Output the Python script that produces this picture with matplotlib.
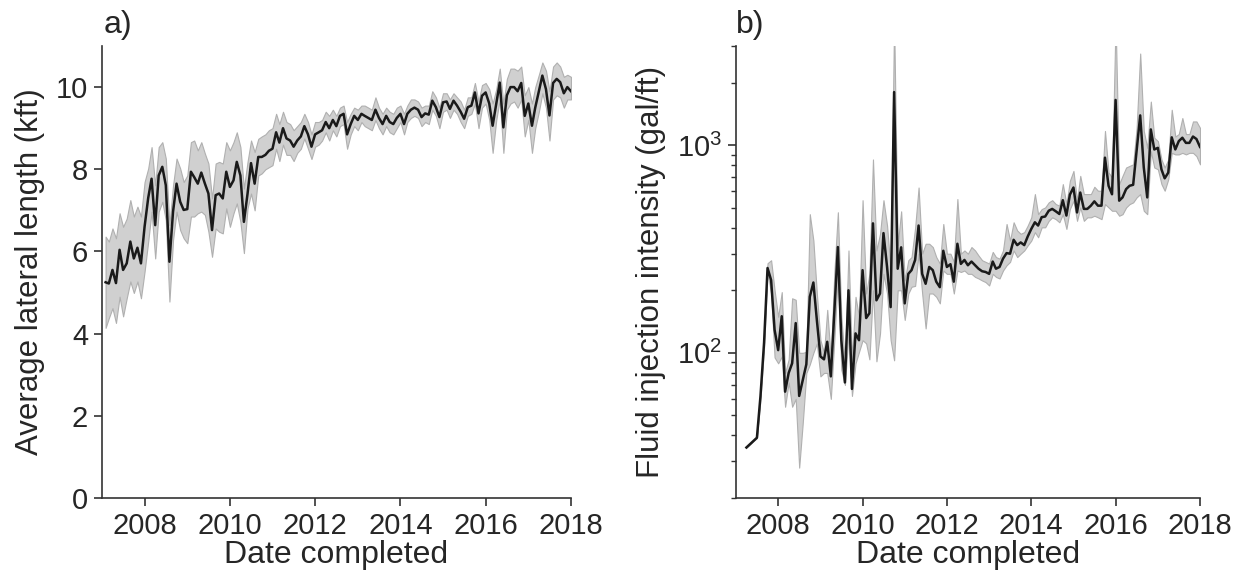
import numpy as np
import pandas as pd
import matplotlib
matplotlib.use("Agg")
import matplotlib.pyplot as plt
import matplotlib.dates as mdates
from matplotlib.ticker import LogLocator, NullFormatter

plt.rcParams['font.family'] = ['Liberation Sans', 'DejaVu Sans']
plt.rcParams['mathtext.fontset'] = 'custom'
plt.rcParams['mathtext.rm'] = 'Liberation Sans'
plt.rcParams['mathtext.it'] = 'Liberation Sans'

# ---------------- data ----------------
# panel a: monthly (Jan 2007 .. Dec 2017), average lateral length, kft
lat_months = pd.period_range('2007-01', '2017-12', freq='M')
lat_mean = [5.25, 5.22, 5.55, 5.23, 6.04, 5.55, 5.71, 6.24, 5.83, 6.09,
            5.71, 6.6, 7.3, 7.77, 6.64, 7.85, 8.06, 7.61, 5.75, 6.97,
            7.65, 7.21, 7.01, 7.03, 7.94, 7.81, 7.65, 7.92, 7.65, 7.41,
            6.52, 7.37, 7.41, 7.29, 7.94, 7.57, 7.73, 8.18, 7.85, 6.72,
            7.4, 8.15, 7.65, 8.3, 8.3, 8.35, 8.45, 8.5, 8.9, 8.65,
            9.0, 8.75, 8.7, 8.55, 8.7, 8.8, 9.05, 8.85, 8.55, 8.85,
            8.9, 8.95, 9.15, 9.0, 9.2, 9.05, 9.3, 9.35, 8.85, 9.1,
            9.3, 9.2, 9.35, 9.3, 9.25, 9.2, 9.45, 9.25, 9.1, 9.3,
            9.15, 9.1, 9.25, 9.35, 9.1, 9.35, 9.45, 9.5, 9.45, 9.27,
            9.36, 9.33, 9.67, 9.51, 9.27, 9.63, 9.65, 9.47, 9.67, 9.55,
            9.4, 9.23, 9.51, 9.55, 9.87, 9.36, 9.79, 9.87, 9.6, 9.06,
            9.6, 10.11, 9.02, 9.8, 10.0, 10.0, 9.9, 10.1, 9.3, 9.6,
            9.06, 9.5, 9.9, 10.28, 9.95, 9.31, 10.1, 10.2, 10.12, 9.85,
            10.0, 9.9]
lat_hi = [6.36, 6.24, 6.56, 6.32, 6.93, 6.6, 6.8, 7.25, 6.85, 7.09,
          6.85, 7.69, 8.02, 8.54, 7.61, 8.54, 8.66, 8.26, 6.64, 7.61,
          8.26, 8.02, 7.69, 7.85, 8.66, 8.7, 8.46, 8.66, 8.38, 8.14,
          7.29, 8.14, 8.18, 8.14, 8.66, 8.46, 8.66, 8.9, 8.54, 7.53,
          8.18, 8.7, 8.42, 8.74,
          8.8, 8.85, 8.95, 9.0, 9.35, 9.1, 9.4, 9.15, 9.1, 8.95,
          9.05, 9.15, 9.35, 9.15, 8.85, 9.15, 9.15, 9.2, 9.4, 9.3,
          9.45, 9.3, 9.5, 9.55, 9.15, 9.35, 9.5, 9.45, 9.55, 9.55,
          9.5, 9.45, 9.75, 9.5, 9.35, 9.5, 9.4, 9.35, 9.5, 9.55,
          9.35, 9.55, 9.7, 9.7, 9.65, 9.5, 9.55, 9.55, 9.9, 9.75,
          9.5, 9.85, 9.85, 9.7, 9.85, 9.75, 9.65, 9.45, 9.75, 9.75,
          10.1, 9.65, 10.05, 10.1, 9.95, 9.6, 9.95, 10.45, 9.6, 10.2,
          10.45, 10.45, 10.4, 10.5, 9.8, 10.0, 9.6, 10.0, 10.3, 10.6,
          10.4, 9.9, 10.5, 10.6, 10.5, 10.25, 10.3, 10.25]
lat_lo = [4.14, 4.38, 4.62, 4.26, 4.9, 4.42, 4.86, 5.27, 4.99, 5.27,
          4.86, 5.51, 6.24, 6.97, 5.83, 6.97, 7.21, 6.76, 4.78, 6.28,
          6.97, 6.52, 6.32, 6.2, 6.85, 6.85, 6.93, 6.97, 6.89, 6.48,
          5.87, 6.56, 6.48, 6.44, 7.05, 6.6, 6.93, 7.17, 6.72, 5.96,
          7.05, 7.41, 7.0, 7.85,
          7.9, 8.0, 8.05, 8.1, 8.5, 8.2, 8.6, 8.35, 8.35, 8.2,
          8.4, 8.5, 8.75, 8.5, 8.25, 8.55, 8.6, 8.7, 8.9, 8.7,
          8.95, 8.8, 9.05, 9.1, 8.5, 8.85, 9.05, 8.95, 9.15, 9.05,
          9.0, 8.95, 9.2, 9.0, 8.85, 9.05, 8.9, 8.85, 9.0, 9.15,
          8.85, 9.15, 9.25, 9.3, 9.25, 9.05, 9.15, 9.1, 9.45, 9.3,
          9.0, 9.4, 9.45, 9.25, 9.45, 9.35, 9.15, 9.0, 9.3, 9.35,
          9.6, 9.0, 9.5, 9.6, 9.2, 8.4, 9.2, 9.7, 8.4, 9.45,
          9.6, 9.65, 9.5, 9.7, 8.8, 9.2, 8.4, 9.0, 9.4, 9.85,
          9.5, 8.7, 9.7, 9.8, 9.75, 9.5, 9.7, 9.7]

# panel b: fluid injection intensity, gal/ft (Mar 2007, Jun 2007, then monthly Jul 2007 .. Dec 2017)
fluid_months = (['2007-03', '2007-06'] +
                [str(p) for p in pd.period_range('2007-07', '2017-12', freq='M')])
fluid_mean = [35, 39, 62, 112, 256, 224, 129, 103, 150, 65,
              80, 89, 139, 62, 74, 88, 186, 218, 144, 96,
              93, 113, 77, 155, 323, 115, 72, 200, 67, 124,
              115, 250, 147, 155, 420, 179, 193, 377, 259, 166,
              1800, 254, 322, 173, 240, 250, 280, 410, 240, 215,
              259, 250, 220, 207, 310, 259, 267, 220, 335, 268,
              280, 264, 275, 264, 254, 247, 245, 240, 275, 254,
              259, 284, 302, 300, 350, 330, 340, 330, 363, 395,
              425, 410, 450, 453, 483, 493, 480, 466, 543, 458,
              577, 625, 474, 591, 493, 493, 511, 536, 511, 511,
              870, 637, 580, 1650, 540, 560, 614, 637, 644, 935,
              1390, 780, 560, 1190, 953, 970, 764, 692, 737, 1090,
              953, 1045, 1085, 1025, 1025, 1100, 1070, 980]
fluid_lo = [35, 39, 60, 106, 245, 193, 95, 89, 96, 55,
            72, 55, 60, 28, 46, 80, 88, 100, 111, 77,
            80, 80, 60, 115, 240, 83, 70, 124, 62, 89,
            101, 115, 111, 93, 200, 91, 124, 240, 193, 115,
            92, 200, 200, 144, 193, 208, 210, 300, 193, 131,
            193, 193, 186, 173, 249, 240, 240, 193, 249, 245,
            249, 240, 240, 232, 228, 223, 219, 211, 240, 232,
            228, 249, 264, 274, 311, 289, 300, 311, 329, 347,
            381, 360, 402, 402, 432, 449, 440, 425, 465, 395,
            492, 540, 432, 501, 432, 449, 449, 457, 449, 440,
            520, 501, 483, 483, 457, 465, 501, 520, 530, 560,
            581, 483, 465, 935, 780, 765, 649, 603, 685, 918,
            902, 902, 918, 902, 918, 918, 885, 808]
fluid_hi = [35, 39, 64, 118, 270, 279, 200, 149, 196, 80,
            93, 183, 180, 100, 100, 101, 465, 347, 193, 115,
            100, 161, 93, 240, 475, 149, 89, 311, 93, 186,
            149, 543, 193, 240, 853, 311, 374, 543, 410, 249,
            4000, 330, 480, 223, 279, 289, 400, 625, 300, 335,
            335, 323, 289, 269, 417, 300, 300, 274, 550, 300,
            311, 300, 323, 311, 294, 279, 274, 269, 306, 289,
            284, 311, 417, 347, 425, 388, 374, 381, 410, 449,
            581, 465, 492, 501, 530, 543, 520, 511, 649, 520,
            673, 751, 540, 711, 581, 581, 581, 630, 603, 603,
            1170, 738, 698, 4000, 649, 711, 780, 794, 808, 1210,
            2760, 1170, 970, 1620, 1085, 1045, 853, 780, 853, 1480,
            1100, 1130, 1350, 1130, 1130, 1300, 1300, 1210]

lat_dates = lat_months.to_timestamp(how='end')
fluid_dates = pd.PeriodIndex(fluid_months, freq='M').to_timestamp(how='end')

# ---------------- figure ----------------
TXT = '#262626'
LINE = '#1a1a1a'
BAND_FACE = '#d0d0d0'
BAND_EDGE = '#b0b0b0'

fig = plt.figure(figsize=(12.42, 5.81), dpi=100)
axa = fig.add_axes([0.0821, 0.1429, 0.3776, 0.7779])
axb = fig.add_axes([0.5926, 0.1429, 0.3736, 0.7779])

for ax, d, m, lo, hi in [(axa, lat_dates, lat_mean, lat_lo, lat_hi),
                         (axb, fluid_dates, fluid_mean, fluid_lo, fluid_hi)]:
    ax.fill_between(d, lo, hi, facecolor=BAND_FACE, edgecolor=BAND_EDGE,
                    linewidth=0.8, zorder=1)
    ax.plot(d, m, color=LINE, linewidth=1.8, zorder=2)
    ax.set_xlim(pd.Timestamp('2007-01-01'), pd.Timestamp('2018-01-01'))
    ax.xaxis.set_major_locator(mdates.YearLocator(2, month=1, day=1))
    ax.xaxis.set_major_formatter(mdates.DateFormatter('%Y'))
    for s in ['top', 'right']:
        ax.spines[s].set_visible(False)
    for s in ['left', 'bottom']:
        ax.spines[s].set_color('#333333')
        ax.spines[s].set_linewidth(1.2)
    ax.tick_params(axis='both', which='major', direction='out', length=6,
                   width=1.2, color='#333333', labelsize=21, labelcolor=TXT,
                   pad=4)
    ax.tick_params(axis='both', which='minor', direction='out', length=3.5,
                   width=1.0, color='#333333')
    ax.set_xlabel('Date completed', fontsize=23, color=TXT, labelpad=0)

axa.set_ylim(0, 11)
axa.set_yticks([0, 2, 4, 6, 8, 10])
axa.set_ylabel('Average lateral length (kft)', fontsize=22.5, color=TXT, labelpad=8)

axb.set_yscale('log')
axb.set_ylim(20, 3000)
axb.yaxis.set_major_locator(LogLocator(base=10))
axb.yaxis.set_minor_locator(LogLocator(base=10, subs=np.arange(2, 10)))
axb.yaxis.set_minor_formatter(NullFormatter())
axb.set_ylabel('Fluid injection intensity (gal/ft)', fontsize=22.5, color=TXT, labelpad=8)

fig.text(0.0835, 0.932, 'a)', fontsize=23, color=TXT, ha='left', va='bottom')
fig.text(0.5925, 0.932, 'b)', fontsize=23, color=TXT, ha='left', va='bottom')

fig.savefig('out.png', dpi=100, facecolor='white')
